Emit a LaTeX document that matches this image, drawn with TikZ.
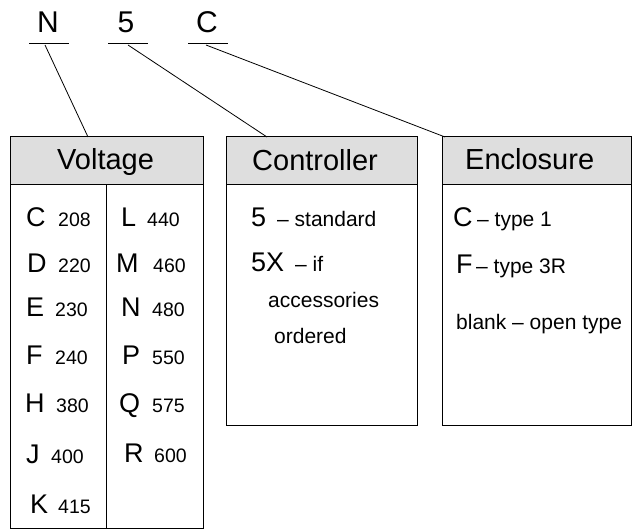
\documentclass[tikz,border=0pt]{standalone}
\usepackage{fontspec}
\setmainfont{Liberation Sans}
\definecolor{headgray}{HTML}{DEDEDE}
\begin{document}
\begin{tikzpicture}[x=1pt,y=-1pt,
  txt/.style={inner sep=0pt,anchor=base west},
  big/.style={txt,font=\fontsize{27}{30}\selectfont},
  sm/.style={txt,font=\fontsize{19.5}{22}\selectfont},
  desc/.style={txt,font=\fontsize{21}{24}\selectfont},
  hdr/.style={txt,font=\fontsize{29}{32}\selectfont},
  toplbl/.style={inner sep=0pt,anchor=base,font=\fontsize{30}{34}\selectfont},
  boxline/.style={draw=black,line width=1pt},
  headbox/.style={draw=black,line width=1pt,fill=headgray},
  conn/.style={line width=0.8pt}]
\useasboundingbox (0,0) rectangle (632,529);
% boxes
\draw[boxline] (10,137) rectangle (203,528);
\draw[headbox] (10,137) rectangle (203,185);
\draw[boxline] (106,185) -- (106,528);
\draw[boxline] (226,137) rectangle (417,425);
\draw[headbox] (226,137) rectangle (417,185);
\draw[boxline] (442,137) rectangle (631.5,425);
\draw[headbox] (442,137) rectangle (631.5,185);
% top labels
\node[toplbl] (tN) at (48,33) {N};
\node[toplbl] (t5) at (126,33) {5};
\node[toplbl] (tC) at (207,33) {C};
\coordinate (uN1) at (29,43); \coordinate (uN2) at (69,43);
\coordinate (u51) at (108,43); \coordinate (u52) at (148,43);
\coordinate (uC1) at (188,43); \coordinate (uC2) at (228,43);
\draw[conn] (uN1) -- (uN2);
\draw[conn] (u51) -- (u52);
\draw[conn] (uC1) -- (uC2);
\coordinate (sN) at (45,45); \coordinate (eN) at (88,137);
\coordinate (s5) at (128,45); \coordinate (e5) at (267,137);
\coordinate (sC) at (206,45); \coordinate (eC) at (445,137);
\draw[conn] (sN) -- (eN);
\draw[conn] (s5) -- (e5);
\draw[conn] (sC) -- (eC);
% headers
\node[hdr] (hV) at (57,170) {Voltage};
\node[hdr] (hCt) at (252,171) {Controller};
\node[hdr] (hE) at (465,170) {Enclosure};
% voltage left column
\node[big] (vC) at (26,227) {C}; \node[sm] (vCn) at (58,227) {208};
\node[big] (vD) at (27,273) {D}; \node[sm] (vDn) at (58,273) {220};
\node[big] (vE) at (26,317) {E}; \node[sm] (vEn) at (55,317) {230};
\node[big] (vF) at (26,365) {F}; \node[sm] (vFn) at (55,365) {240};
\node[big] (vH) at (25,412) {H}; \node[sm] (vHn) at (56,412) {380};
\node[big] (vJ) at (26,463) {J}; \node[sm] (vJn) at (51,463) {400};
\node[big] (vK) at (30,513) {K}; \node[sm] (vKn) at (58,513) {415};
% voltage right column
\node[big] (vL) at (121,227) {L}; \node[sm] (vLn) at (147,227) {440};
\node[big] (vM) at (116,273) {M}; \node[sm] (vMn) at (153,273) {460};
\node[big] (vN) at (121,317) {N}; \node[sm] (vNn) at (152,317) {480};
\node[big] (vP) at (122,365) {P}; \node[sm] (vPn) at (152,365) {550};
\node[big] (vQ) at (119,412) {Q}; \node[sm] (vQn) at (152,412) {575};
\node[big] (vR) at (124,462) {R}; \node[sm] (vRn) at (154,462) {600};
% controller
\node[big] (c5) at (251,227) {5}; \node[desc] (c5t) at (277,227) {– standard};
\node[big] (c5X) at (251,272) {5X}; \node[desc] (c5Xt) at (295,272) {– if};
\node[desc] (cacc) at (268,308) {accessories};
\node[desc] (cord) at (274,344) {ordered};
% enclosure
\node[big] (eCl) at (453,227) {C}; \node[desc] (eCt) at (477,227) {– type 1};
\node[big] (eF) at (456,274) {F}; \node[desc] (eFt) at (476,274) {– type 3R};
\node[desc] (eb) at (456,330) {blank – open type};
\end{tikzpicture}
\end{document}
